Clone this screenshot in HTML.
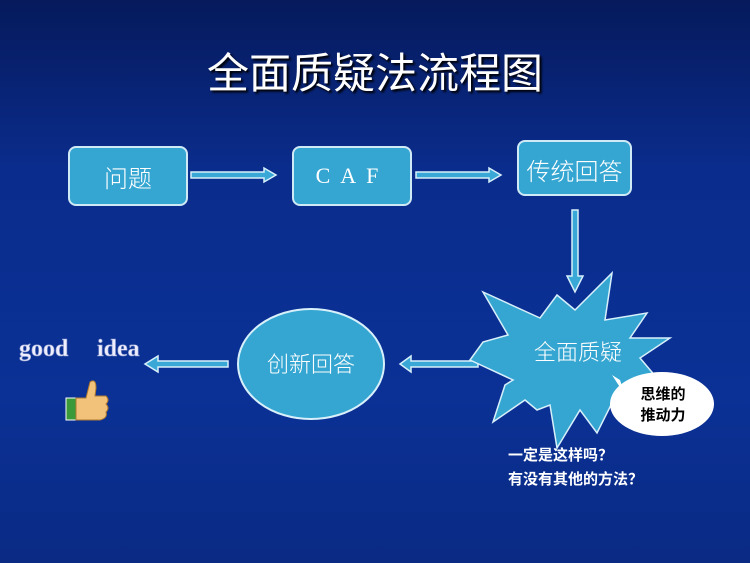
<!DOCTYPE html>
<html><head><meta charset="utf-8"><style>
html,body{margin:0;padding:0}
body{width:750px;height:563px;overflow:hidden;background:linear-gradient(180deg,#061a5c 0%,#0a2c8c 30%,#0b3196 70%,#0a2a84 100%);font-family:"Liberation Sans","Noto Sans CJK SC",sans-serif;position:relative}
.t{position:absolute;left:0;width:750px;top:40px;text-align:center;color:#fff;font-size:42px;font-family:"Noto Sans CJK SC",sans-serif;text-shadow:2px 2px 2px #000}
.box{position:absolute;background:#35a6d2;border:2px solid #cfeaf5;border-radius:8px;color:#fff;display:flex;align-items:center;justify-content:center;font-size:24px;font-family:"Noto Sans CJK SC",sans-serif;font-weight:300}
</style></head><body>
<div class="t">全面质疑法流程图</div>
<div class="box" style="left:68px;top:146px;width:116px;height:56px">问题</div>
<div class="box" style="left:292px;top:146px;width:116px;height:56px;letter-spacing:10px;font-family:'Liberation Serif',serif;font-size:22px">CAF</div>
<div class="box" style="left:517px;top:140px;width:115px;height:56px;align-items:flex-start;box-sizing:border-box;padding-top:10px">传统回答</div>
<svg width="750" height="563" style="position:absolute;left:0;top:0">
<g fill="#3aa8d6" stroke="#d8f0fa" stroke-width="1.5">
<polygon points="191,172 264,172 264,168 276,175 264,182 264,178 191,178"/>
<polygon points="416,172 489,172 489,168 501,175 489,182 489,178 416,178"/>
<polygon points="572,210 578,210 578,276 583,276 575,292 567,276 572,276"/>
<polygon points="478,361 411,361 411,356 400,364 411,372 411,367 478,367"/>
<polygon points="228,361 158,361 158,356 145,364 158,372 158,367 228,367"/>
</g>
<polygon fill="#35a6d2" stroke="#d8f0fa" stroke-width="1.5" points="483,292 540,318 557,295 575,310 612,273 605,320 647,313 630,338 670,338 640,358 673,397 630,390 633,423 612,403 597,433 580,410 557,448 550,405 537,410 525,400 493,422 505,385 513,380 470,360 483,342 508,335"/>
<ellipse cx="311" cy="364" rx="73" ry="55" fill="#35a6d2" stroke="#d8f0fa" stroke-width="2"/>
<path d="M620,380 L612,375 L625,395 Z" fill="#fff"/>
<ellipse cx="662" cy="404" rx="52" ry="32" fill="#fff"/>
<g font-family="Noto Sans CJK SC,sans-serif">
<text x="663" y="399" font-size="15" text-anchor="middle" fill="#000" font-weight="bold">思维的</text>
<text x="663" y="420" font-size="15" text-anchor="middle" fill="#000" font-weight="bold">推动力</text>
<text x="311" y="372" font-size="22" text-anchor="middle" fill="#fff" font-weight="300">创新回答</text>
<text x="578" y="360" font-size="22" text-anchor="middle" fill="#fff" font-weight="300">全面质疑</text>
<text x="508" y="460" font-size="15" fill="#fff" font-weight="bold">一定是这样吗？</text>
<text x="508" y="484" font-size="15" fill="#fff" font-weight="bold">有没有其他的方法？</text>
</g>
<text x="19" y="356" font-size="24" fill="#eef" font-weight="bold" font-family="Liberation Serif,serif" stroke="#8898c8" stroke-width="0.6">good</text>
<text x="97" y="356" font-size="24" fill="#eef" font-weight="bold" font-family="Liberation Serif,serif" stroke="#8898c8" stroke-width="0.6">idea</text>
<rect x="66" y="398" width="10" height="22" fill="#3a9a3a" stroke="#fff" stroke-width="1"/>
<path d="M76,398 L86,398 L90,382 Q96,378 96,388 L95,396 L106,396 Q110,400 106,404 Q110,408 106,412 Q108,418 100,420 L76,420 Z" fill="#f2c27a" stroke="#b07a30" stroke-width="1"/>
</svg>
</body></html>
